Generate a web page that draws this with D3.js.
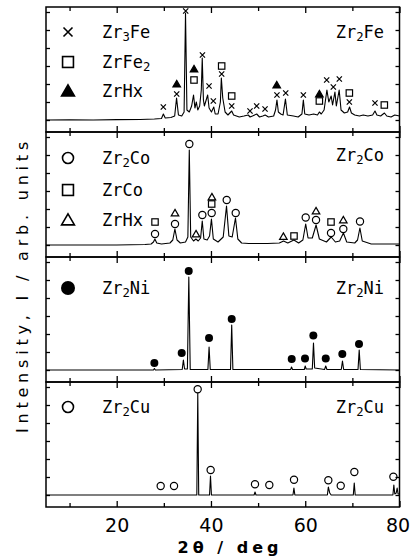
<!DOCTYPE html>
<html><head><meta charset="utf-8">
<script src="https://cdn.jsdelivr.net/npm/d3@7"></script>
<style>
html,body{margin:0;padding:0;background:#fff;}
svg{display:block;}
</style></head>
<body>
<script>
// ---------- data (2θ in deg, intensity in arb. units above baseline) ----------
const xTicksMajor = [20, 40, 60, 80];
const xTicksMinor = [10, 30, 50, 70];
const yTicks = [0, 18, 36, 54, 72, 90, 108];

const specFe = [[5,0],[10,0.3],[15,0],[20,0.4],[25,0.5],[28,1],[29.5,1.5],[29.9,6],[30.3,2],[31.5,2.5],[32.3,4],[32.7,22],[33.1,5],[33.8,4],[34.3,8],[34.6,107],[34.9,10],[35.4,8],[35.9,14],[36.3,25],[36.6,12],[36.9,18],[37.2,10],[37.6,14],[37.95,30],[38.15,62],[38.4,20],[38.6,14],[39.3,25],[39.6,12],[40.1,8],[40.6,13],[40.9,6],[41.5,6],[42.0,18],[42.2,42],[42.5,22],[43.0,8],[43.6,5],[44.4,9],[44.8,5],[46,3],[47,4],[47.9,5],[48.3,3],[48.8,4],[49.7,6],[50.3,3],[51,4],[51.5,5],[52.2,3],[53.3,4],[53.7,10],[54.0,20],[54.3,8],[54.8,6],[55.3,5],[55.8,21],[56.2,5],[57.5,4],[58.5,3],[59.3,6],[59.6,20],[59.9,6],[60.8,5],[61.8,6],[62.6,5],[63.0,8],[63.4,6],[64.0,10],[64.6,30],[65.0,18],[65.5,24],[65.8,15],[66.3,28],[66.6,14],[67.2,30],[67.6,10],[68.3,7],[69.0,8],[69.4,13],[69.8,7],[70.5,5],[71.5,4],[72.3,5],[73.3,4],[74.3,5],[74.8,9],[75.2,5],[76,4],[76.8,7],[77.3,4],[78.2,3],[79,5],[80,4]];
const specCo = [[5,0],[20,0],[26,0.5],[27.3,1],[27.8,3],[28.1,6],[28.5,2],[29.5,1],[31.3,2],[31.9,5],[32.35,16],[32.8,5],[33.5,2],[34.6,3],[35.1,8],[35.4,95],[35.7,8],[36.3,4],[36.8,6],[37.3,4],[37.8,7],[38.15,24],[38.5,6],[39.2,5],[39.7,9],[40.1,26],[40.5,6],[41.5,3],[42.6,8],[43.3,39],[43.8,9],[44.5,8],[45.2,27],[45.7,6],[46.5,2],[48,1.5],[52,1.5],[54.5,2],[55.4,4],[56.3,2],[57.6,5],[58.6,2],[59.5,5],[60.1,21],[60.6,7],[61.5,7],[62.3,20],[63,6],[64.5,3],[65.5,8],[66.4,3],[67.3,4],[68.1,12],[68.8,3],[70.5,2],[71.1,5],[71.6,17],[72.1,4],[74,1],[80,1]];
const specNi = [[5,0],[27.8,0],[28.0,1.5],[28.2,0],[33.9,0.5],[34.15,10],[34.4,1],[35.0,1],[35.3,93],[35.6,0.5],[39.35,0.5],[39.6,23],[39.85,0.5],[44.15,0.5],[44.4,45],[44.65,0.5],[56.9,0.5],[57.1,3],[57.3,0.5],[59.8,0.5],[60.0,4],[60.2,1],[61.5,1],[61.75,27],[62.0,2],[64.1,0.5],[64.35,4],[64.6,0.5],[67.65,0.5],[67.9,9],[68.15,0.5],[71.2,0.5],[71.45,20],[71.7,0.5],[80,0]];
const specCu = [[5,0],[37.0,0],[37.2,102],[37.4,0],[39.7,0],[39.9,19],[40.1,0],[49.15,0],[49.35,3],[49.55,0],[57.4,0],[57.6,7],[57.8,0],[64.7,0],[64.9,8],[65.2,2],[65.5,0],[70.2,0],[70.4,12],[70.6,0],[78.6,0],[78.8,10],[79.0,1],[79.3,2],[79.5,7],[79.7,1],[80,1]];

// markers: [2θ, level, symbol]
const marksFe = [[34.64,109,"x"],[38.19,65,"x"],[39.59,34,"x"],[40.5,19,"x"],[42.27,46,"x"],[42.27,54,"sq"],[32.73,26,"x"],[32.73,36,"triF"],[36.4,40,"sq"],[36.4,51,"triF"],[29.89,13,"x"],[44.4,24,"sq"],[44.4,14,"x"],[48.28,9,"x"],[49.7,14,"x"],[51.47,11,"x"],[53.95,35,"triF"],[54.0,25,"x"],[55.86,27,"x"],[59.6,25,"x"],[63.0,26,"triF"],[63.0,19,"sq"],[64.55,40,"x"],[65.96,33,"x"],[67.23,41,"x"],[69.36,27,"sq"],[69.36,18,"x"],[74.8,17,"x"],[76.78,15,"sq"]];
const marksCo = [[35.41,101,"c"],[28.13,11,"c"],[28.13,23,"sq"],[32.37,21,"c"],[32.37,32,"tri"],[36.83,11,"tri"],[38.17,30,"c"],[40.15,32,"c"],[40.15,41,"sq"],[40.2,48,"tri"],[43.34,45,"c"],[45.25,32,"c"],[55.36,8.5,"tri"],[57.62,9,"sq"],[60.1,27.5,"c"],[62.29,25,"c"],[62.29,34,"tri"],[65.47,12,"c"],[65.47,23,"sq"],[68.08,16,"c"],[68.08,25,"tri"],[71.62,23.5,"c"]];
const marksNi = [[35.28,99,"dot"],[27.99,7,"dot"],[33.79,17,"dot"],[39.59,32,"dot"],[44.4,51,"dot"],[57.13,11,"dot"],[59.95,11.6,"dot"],[61.72,34.6,"dot"],[64.35,11.6,"dot"],[67.87,16,"dot"],[71.41,26,"dot"]];
const marksCu = [[37.18,105.7,"c"],[29.33,9,"c"],[32.16,9,"c"],[39.93,25,"c"],[49.34,10.7,"c"],[52.38,10,"c"],[57.62,15.3,"c"],[64.9,14.7,"c"],[67.53,9.3,"c"],[70.42,23,"c"],[78.7,18.3,"c"]];

// legends: [symbol, name, subscript, suffix]
const legendFe = [["x","Zr","3","Fe"],["sq","ZrFe","2",""],["triF","ZrHx","",""]];
const legendCo = [["c","Zr","2","Co"],["sq","ZrCo","",""],["tri","ZrHx","",""]];
const legendNi = [["dot","Zr","2","Ni"]];
const legendCu = [["c","Zr","2","Cu"]];
const sampleNames = [["Zr","2","Fe"],["Zr","2","Co"],["Zr","2","Ni"],["Zr","2","Cu"]];

const xLabel = "2θ / deg";
const yLabel = "Intensity, I / arb. units";

// ---------- layout ----------
const W = 411, H = 558;
const padL = 46, padR = 399.5, padT = 7, panelH = 125;
const legendY = [[32, 62, 91], [158, 190, 220], [288], [407]];

const svg = d3.select("body").append("svg").attr("width", W).attr("height", H);
const x = d3.scaleLinear().domain([5, 80]).range([padL, padR]);

const panels = [
  {spec: specFe, marks: marksFe, legend: legendFe},
  {spec: specCo, marks: marksCo, legend: legendCo},
  {spec: specNi, marks: marksNi, legend: legendNi},
  {spec: specCu, marks: marksCu, legend: legendCu}
];

const FONT = "'DejaVu Sans Mono', monospace";

function drawSymbol(g, type, cx, cy, big) {
  const s = big ? 1.7 : 1;
  const sw = big ? 1.6 : 1.2;
  if (type === "x") {
    const h = (big ? 4.5 : 2.6);
    g.append("path").attr("d", `M${cx-h},${cy-h}L${cx+h},${cy+h}M${cx-h},${cy+h}L${cx+h},${cy-h}`)
      .attr("stroke", "#000").attr("stroke-width", sw).attr("fill", "none");
  } else if (type === "sq") {
    const h = 3.2 * s;
    g.append("rect").attr("x", cx-h).attr("y", cy-h).attr("width", 2*h).attr("height", 2*h)
      .attr("fill", "#fff").attr("stroke", "#000").attr("stroke-width", sw);
  } else if (type === "tri" || type === "triF") {
    const h = 3.6 * s;
    g.append("path").attr("d", `M${cx},${cy-h}L${cx+h*1.05},${cy+h*0.8}L${cx-h*1.05},${cy+h*0.8}Z`)
      .attr("fill", type === "triF" ? "#000" : "#fff").attr("stroke", "#000").attr("stroke-width", sw)
      .attr("stroke-linejoin", "miter");
  } else if (type === "c") {
    g.append("circle").attr("cx", cx).attr("cy", cy).attr("r", big ? 5.5 : 3.6)
      .attr("fill", "#fff").attr("stroke", "#000").attr("stroke-width", sw);
  } else if (type === "dot") {
    g.append("circle").attr("cx", cx).attr("cy", cy).attr("r", big ? 7 : 4).attr("fill", "#000");
  }
}

function addName(t, parts, size) {
  t.append("tspan").text(parts[0]);
  if (parts[1]) t.append("tspan").attr("font-size", size * 0.72).attr("dy", 3).text(parts[1]);
  if (parts[2]) t.append("tspan").attr("dy", parts[1] ? -3 : 0).text(parts[2]);
}

panels.forEach((p, i) => {
  const y0 = padT + i * panelH;
  const y = d3.scaleLinear().domain([-12, 113]).range([y0 + panelH, y0]);
  const g = svg.append("g");

  // spectrum
  g.append("path").datum(p.spec)
    .attr("d", d3.line().x(d => x(d[0])).y(d => y(d[1])))
    .attr("fill", "none").attr("stroke", "#000").attr("stroke-width", 1.1).attr("stroke-linejoin", "round");

  // peak markers
  p.marks.forEach(m => drawSymbol(g, m[2], x(m[0]), y(m[1]), false));

  // legend
  p.legend.forEach((l, k) => {
    const cy = legendY[i][k];
    drawSymbol(g, l[0], 68, cy, true);
    const t = g.append("text").attr("x", 102).attr("y", cy + 6).attr("font-family", FONT)
      .attr("font-size", 17).attr("fill", "#000");
    addName(t, [l[1], l[2], l[3]], 17);
  });

  // sample name
  const tn = g.append("text").attr("x", 384).attr("y", legendY[i][0] + (i === 1 ? -3 : 0) + 6)
    .attr("text-anchor", "end").attr("font-family", FONT).attr("font-size", 17).attr("fill", "#000");
  addName(tn, sampleNames[i], 17);

  // x ticks (inward, top and bottom)
  const mk = (axisFn, vals, len, ty) => {
    const a = svg.append("g").attr("transform", `translate(0,${ty})`)
      .call(axisFn(x).tickValues(vals).tickSize(-len).tickFormat(""));
    a.select(".domain").remove();
    a.selectAll("line").attr("stroke", "#000").attr("stroke-width", 1.3);
  };
  mk(d3.axisTop, xTicksMajor, 6, y0);
  mk(d3.axisTop, xTicksMinor, 4, y0);
  mk(d3.axisBottom, xTicksMajor, 6, y0 + panelH);
  mk(d3.axisBottom, xTicksMinor, 4, y0 + panelH);

  // y ticks (inward, left and right)
  const yl = svg.append("g").attr("transform", `translate(${padL},0)`)
    .call(d3.axisLeft(y).tickValues(yTicks).tickSize(-4).tickFormat(""));
  yl.select(".domain").remove();
  yl.selectAll("line").attr("stroke", "#000").attr("stroke-width", 1.3);
  const yr = svg.append("g").attr("transform", `translate(${padR},0)`)
    .call(d3.axisRight(y).tickValues(yTicks).tickSize(-4).tickFormat(""));
  yr.select(".domain").remove();
  yr.selectAll("line").attr("stroke", "#000").attr("stroke-width", 1.3);

  // frame
  svg.append("rect").attr("x", padL).attr("y", y0).attr("width", padR - padL).attr("height", panelH)
    .attr("fill", "none").attr("stroke", "#000").attr("stroke-width", 1.5);
});

// bottom tick labels
const bottomY = padT + 4 * panelH;
const xl = svg.append("g").attr("transform", `translate(0,${bottomY})`)
  .call(d3.axisBottom(x).tickValues(xTicksMajor).tickSize(0).tickPadding(12).tickFormat(d3.format("d")));
xl.select(".domain").remove();
xl.selectAll("text").attr("font-family", "'DejaVu Sans', sans-serif").attr("font-size", 19).attr("fill", "#000");
xl.selectAll(".tick").filter(d => d === 80).select("text").attr("dx", -2);

// axis titles
svg.append("text").attr("x", 230).attr("y", 553).attr("text-anchor", "middle")
  .attr("font-family", "'DejaVu Sans', sans-serif").attr("font-weight", "bold").attr("font-size", 16)
  .attr("letter-spacing", 4).text(xLabel);
svg.append("text").attr("transform", "translate(28,285) rotate(-90)").attr("text-anchor", "middle")
  .attr("font-family", "'DejaVu Sans', sans-serif").attr("font-size", 16)
  .attr("letter-spacing", 4.8).text(yLabel);
</script>
</body></html>
